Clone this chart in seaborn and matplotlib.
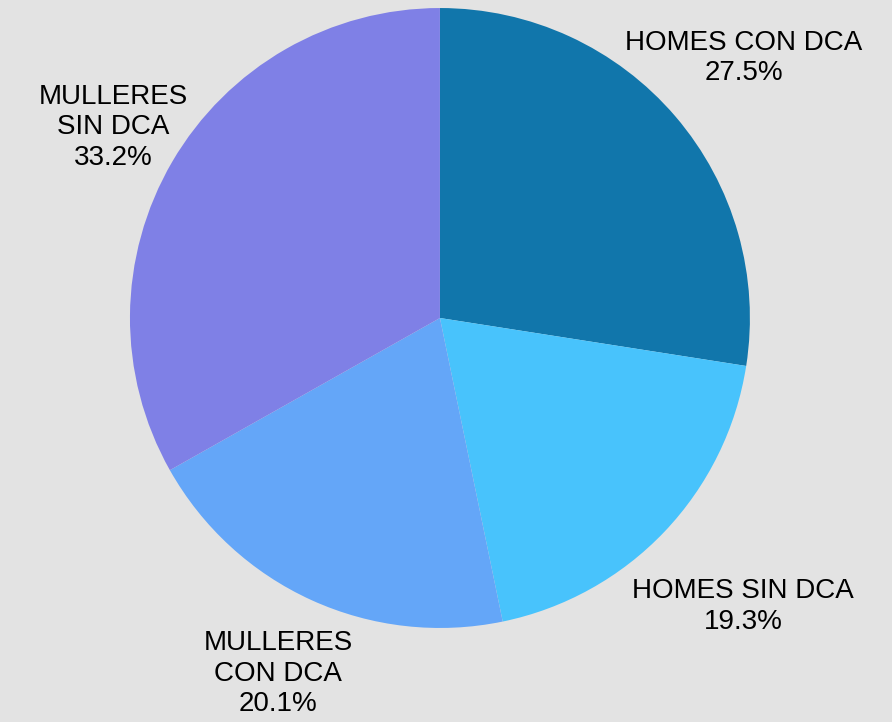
import matplotlib
matplotlib.use("Agg")
import matplotlib.pyplot as plt
import seaborn as sns
import numpy as np

# data
categories = ["HOMES CON DCA", "HOMES SIN DCA", "MULLERES\nCON DCA", "MULLERES\nSIN DCA"]
shares = [27.5, 19.3, 20.1, 33.2]
colors = ["#1176ab", "#48c3fc", "#64a6f8", "#7f80e6"]

sns.set_theme(style="white")
plt.rcParams['font.family'] = ['Liberation Sans', 'DejaVu Sans']

palette = sns.color_palette(colors)

fig = plt.figure(figsize=(8.92, 7.22), dpi=100)
fig.patch.set_facecolor("#e3e3e3")
ax = fig.add_axes([0.1457, 0.1302, 0.695, 0.8587])
ax.set_facecolor("#e3e3e3")

labels = [c + "\n" + f"{v:.1f}%" for c, v in zip(categories, shares)]
wedges, texts = ax.pie(shares, labels=labels, colors=palette, startangle=90,
                       counterclock=False, labeldistance=1.28,
                       wedgeprops={"linewidth": 0},
                       textprops={"fontsize": 20, "color": "black"})

# label distances tweaked per slice
dists = [1.29, 1.35, 1.26, 1.22]
for t, w, d in zip(texts, wedges, dists):
    ang = np.deg2rad((w.theta1 + w.theta2) / 2)
    t.set_position((d * np.cos(ang), d * np.sin(ang)))
    t.set_ha("center")
    t.set_va("center")
    t.set_multialignment("center")
    t.set_linespacing(1.22)
    t.set_clip_on(False)

ax.set_xlim(-1, 1)
ax.set_ylim(-1, 1)
ax.set_aspect("equal")
ax.axis("off")

fig.savefig("out.png", dpi=100, facecolor=fig.get_facecolor())
